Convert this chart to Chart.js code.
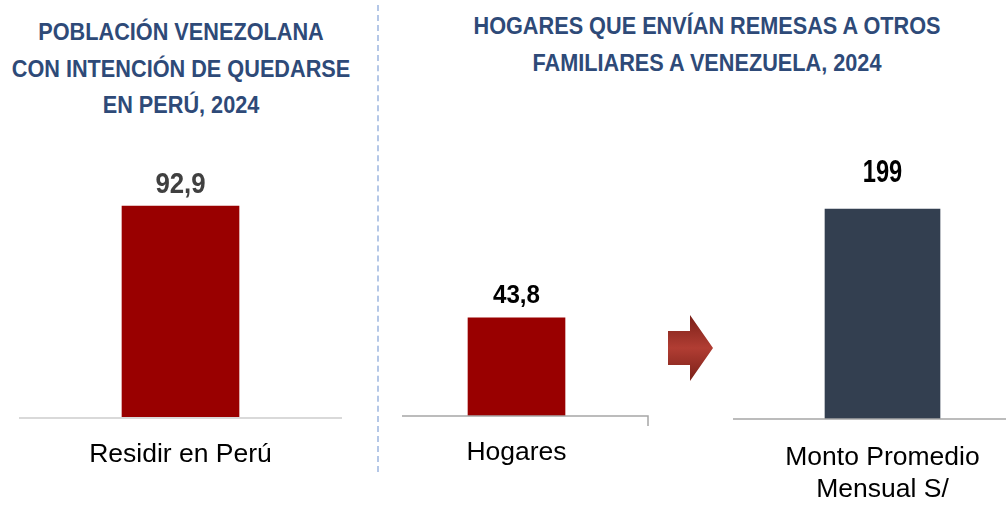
<!DOCTYPE html>
<html>
<head>
<meta charset="utf-8">
<script src="https://cdn.jsdelivr.net/npm/chart.js@4.4.1/dist/chart.umd.min.js"></script>
<style>
  html, body { margin:0; padding:0; background:#fff; }
  #stage { position:relative; width:1006px; height:506px; overflow:hidden; background:#fff;
           font-family: "Liberation Sans", Arial, sans-serif; }
  .wrap { position:absolute; }
  .title { position:absolute; text-align:center; color:#2e4a78; font-weight:bold; font-size:24.5px; line-height:36.5px;
           white-space:nowrap; transform:scaleX(0.885); transform-origin:50% 50%; }
  #sep { position:absolute; left:377px; top:5px; width:0; height:467px; border-left:2px dashed #b4c7e7; }
  #arrow { position:absolute; left:660px; top:305px; }
</style>
</head>
<body>
<div id="stage">
  <div class="title" id="t1"></div>
  <div class="title" id="t2"></div>
  <div id="sep"></div>
  <svg id="arrow" width="60" height="90" viewBox="660 305 60 90">
    <defs>
      <linearGradient id="ag" x1="0" y1="0" x2="0" y2="1">
        <stop offset="0" stop-color="#7a2018"/>
        <stop offset="0.5" stop-color="#b13d33"/>
        <stop offset="1" stop-color="#7a2018"/>
      </linearGradient>
    </defs>
    <polygon points="668,331 690,331 690,315 713,348 690,381 690,365 668,365" fill="url(#ag)"/>
  </svg>
  <div class="wrap" id="w1"><canvas id="c1"></canvas></div>
  <div class="wrap" id="w2"><canvas id="c2"></canvas></div>
  <div class="wrap" id="w3"><canvas id="c3"></canvas></div>
</div>
<script>
// ---- data ----
const titleLeft = ['POBLACIÓN VENEZOLANA', 'CON INTENCIÓN DE QUEDARSE', 'EN PERÚ, 2024'];
const titleRight = ['HOGARES QUE ENVÍAN REMESAS A OTROS', 'FAMILIARES A VENEZUELA, 2024'];
const stayCategories = ['Residir en Perú'];
const stayValues = [92.9];
const remitCategories = ['Hogares'];
const remitValues = [43.8];
const amountCategories = [['Monto Promedio', 'Mensual S/']];
const amountValues = [199];

// ---- titles ----
const t1 = document.getElementById('t1');
t1.innerHTML = titleLeft.join('<br>');
Object.assign(t1.style, { left: '-39px', width: '440px', top: '14px' });
const t2 = document.getElementById('t2');
t2.innerHTML = titleRight.join('<br>');
Object.assign(t2.style, { left: '407px', width: '600px', top: '8px' });

const FONT = '"Liberation Sans", Arial, sans-serif';

function fmt(v) { return String(v).replace('.', ','); }

const valueLabels = {
  id: 'valueLabels',
  afterDatasetsDraw(chart, args, opts) {
    const ctx = chart.ctx;
    chart.getDatasetMeta(0).data.forEach((bar, i) => {
      ctx.save();
      ctx.font = 'bold ' + opts.size + 'px ' + FONT;
      ctx.fillStyle = opts.color;
      ctx.textAlign = 'center';
      ctx.textBaseline = 'alphabetic';
      // centre of the capitals sits opts.offset px above the bar top
      ctx.translate(bar.x, bar.y - opts.offset + 0.358 * opts.size);
      ctx.scale(opts.sx, 1);
      ctx.fillText(fmt(chart.data.datasets[0].data[i]), 0, 0);
      ctx.restore();
    });
  }
};

const baseLine = {
  id: 'baseLine',
  afterDatasetsDraw(chart, args, opts) {
    const ctx = chart.ctx;
    const y = chart.chartArea.bottom;
    ctx.save();
    ctx.strokeStyle = opts.color;
    ctx.lineWidth = opts.width;
    ctx.beginPath();
    ctx.moveTo(0, y);
    ctx.lineTo(chart.width - (opts.tick ? 1 : 0), y);
    if (opts.tick) { ctx.lineTo(chart.width - 1, y + 10); }
    ctx.stroke();
    ctx.restore();
  }
};

function place(id, left, top, width, height) {
  Object.assign(document.getElementById(id).style, {
    left: left + 'px', top: top + 'px', width: width + 'px', height: height + 'px'
  });
}

function makeChart(canvasId, cats, vals, o) {
  return new Chart(document.getElementById(canvasId), {
    type: 'bar',
    data: { labels: cats, datasets: [{ data: vals, backgroundColor: o.color, barThickness: o.barW, borderWidth: 0 }] },
    plugins: [valueLabels, baseLine],
    options: {
      responsive: true, maintainAspectRatio: false, animation: false,
      layout: { padding: { top: 60, left: o.padL || 0, right: o.padR || 0, bottom: 0 } },
      plugins: {
        legend: { display: false }, tooltip: { enabled: false }, title: { display: false },
        valueLabels: { size: o.labelSize, sx: o.labelSx, color: o.labelColor, offset: o.labelOffset },
        baseLine: { color: o.lineColor, width: o.lineWidth, tick: o.tick }
      },
      scales: {
        x: {
          grid: { display: false, drawTicks: false },
          border: { display: false },
          ticks: { color: '#000', padding: o.tickPad, font: { family: FONT, size: 26.5, lineHeight: '32px' } }
        },
        y: { display: false, min: 0, max: o.max, grid: { display: false } }
      }
    }
  });
}

place('w1', 19, 130, 323, 362);
place('w2', 402, 132, 247, 358);
place('w3', 733, 127, 273, 402);

makeChart('c1', stayCategories, stayValues, {
  color: '#990000', barW: 117, max: 100, labelColor: '#404040', labelOffset: 23.5, labelSize: 30, labelSx: 0.86,
  lineColor: '#d9d9d9', lineWidth: 2, tickPad: 21
});
makeChart('c2', remitCategories, remitValues, {
  color: '#990000', barW: 97, max: 100, padR: 18, labelColor: '#000', labelOffset: 24.5, labelSize: 26, labelSx: 0.93,
  lineColor: '#a6a6a6', lineWidth: 1.5, tickPad: 21, tick: true
});
makeChart('c3', amountCategories, amountValues, {
  color: '#333f50', barW: 115, max: 220, padL: 26, labelColor: '#000', labelOffset: 38.3, labelSize: 32, labelSx: 0.74,
  lineColor: '#a6a6a6', lineWidth: 1.5, tickPad: 23
});
</script>
</body>
</html>
